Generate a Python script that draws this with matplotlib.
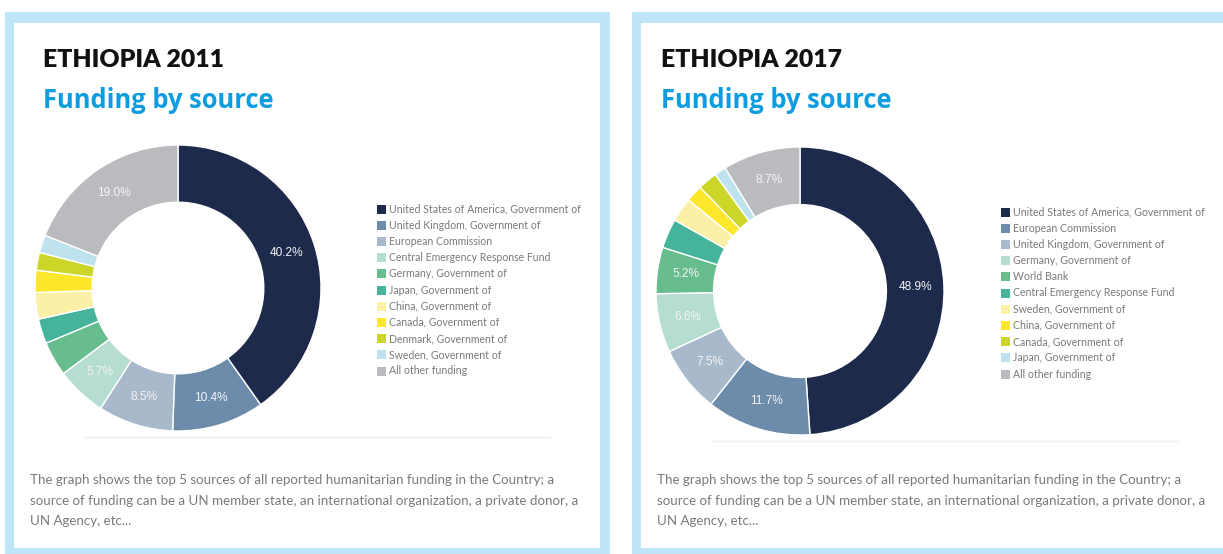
import numpy as np
import matplotlib.pyplot as plt
import matplotlib.patches as mpatches

# funding shares (%) by source, clockwise from 12 o'clock
SOURCES_2011 = ['United States of America, Government of',
                'United Kingdom, Government of',
                'European Commission',
                'Central Emergency Response Fund',
                'Germany, Government of',
                'Japan, Government of',
                'China, Government of',
                'Canada, Government of',
                'Denmark, Government of',
                'Sweden, Government of',
                'All other funding']
SHARES_2011 = [40.2, 10.4, 8.5, 5.7, 3.9, 2.8, 3.0, 2.5, 2.0, 2.0, 19.0]

SOURCES_2017 = ['United States of America, Government of',
                'European Commission',
                'United Kingdom, Government of',
                'Germany, Government of',
                'World Bank',
                'Central Emergency Response Fund',
                'Sweden, Government of',
                'China, Government of',
                'Canada, Government of',
                'Japan, Government of',
                'All other funding']
SHARES_2017 = [48.9, 11.7, 7.5, 6.6, 5.2, 3.3, 2.7, 1.9, 2.2, 1.3, 8.7]

PALETTE = ['#1e2a4c', '#6d8cab', '#a8b9cc', '#b6ddd2', '#68bd8e', '#45b49b',
           '#fbf0a6', '#fde72b', '#ccd629', '#bee3ee', '#b9bbbe']

NOTE = ['The graph shows the top 5 sources of all reported humanitarian funding in the Country; a',
        'source of funding can be a UN member state, an international organization, a private donor, a',
        'UN Agency, etc...']

W, H = 1223, 554
BORDER = '#bfe5f9'
TEXT_GREY = '#7a7a7a'

fig = plt.figure(figsize=(W / 100, H / 100), dpi=100)
bg = fig.add_axes([0, 0, 1, 1])
bg.set_xlim(0, W)
bg.set_ylim(H, 0)
bg.axis('off')


def px_axes(x0, y0, x1, y1):
    """axes placed with pixel coords (y from top)"""
    return fig.add_axes([x0 / W, 1 - y1 / H, (x1 - x0) / W, (y1 - y0) / H])


def panel(x0, title_x, year, sources, shares, cx, cy, r, leg_x, leg_y):
    # light blue frame
    bg.add_patch(mpatches.Rectangle((x0, 12), 605, 560, facecolor=BORDER,
                                    edgecolor='none', zorder=0))
    bg.add_patch(mpatches.Rectangle((x0 + 9, 23), 586, 525, facecolor='white',
                                    edgecolor='none', zorder=1))
    bg.text(title_x - 1, 60, 'ETHIOPIA %d' % year, fontsize=17.8, fontweight='heavy',
            family='Lato', color='#111111', va='center', zorder=3)
    bg.text(title_x - 1, 100, 'Funding by source', fontsize=18.4, fontweight='bold',
            family='Open Sans', color='#0b9ddf', va='center', zorder=3)

    # faint shadow under the donut
    bg.plot([x0 + 80, x0 + 545], [cy + r + 6, cy + r + 6], color='#f5f5f5',
            lw=2, solid_capstyle='round', zorder=2)

    ax = px_axes(cx - r, cy - r, cx + r, cy + r)
    ax.pie(shares, colors=PALETTE, startangle=90, counterclock=False,
           radius=1.0, wedgeprops=dict(width=0.4, edgecolor='white', linewidth=1))
    ax.set_xlim(-1, 1)
    ax.set_ylim(-1, 1)
    ax.axis('off')

    # percent labels on the larger slices
    start = 90.0
    for val in shares:
        mid = np.deg2rad(start - val * 3.6 / 2)
        if val >= 5:
            ax.text(0.8 * np.cos(mid), 0.8 * np.sin(mid), '%.1f%%' % val,
                    ha='center', va='center', fontsize=8.6, color='#f4f4f4',
                    family='Liberation Sans')
        start -= val * 3.6

    # legend
    for i, (name, col) in enumerate(zip(sources, PALETTE)):
        y = leg_y + i * 16.2
        bg.add_patch(mpatches.Rectangle((leg_x, y - 4.5), 9, 9, facecolor=col,
                                        edgecolor='none', zorder=3))
        bg.text(leg_x + 12, y, name, fontsize=7.6, family='Lato', color=TEXT_GREY,
                va='center', zorder=3)

    # footnote
    for i, line in enumerate(NOTE):
        bg.text(x0 + 25, 480 + i * 20.6, line, fontsize=9.6, family='Lato',
                color=TEXT_GREY, va='center', zorder=3)


panel(5, 44, 2011, SOURCES_2011, SHARES_2011, 178, 288, 143, 377, 209)
panel(632, 662, 2017, SOURCES_2017, SHARES_2017, 800, 291, 144, 1001, 212)

fig.savefig('out.png', dpi=100)
